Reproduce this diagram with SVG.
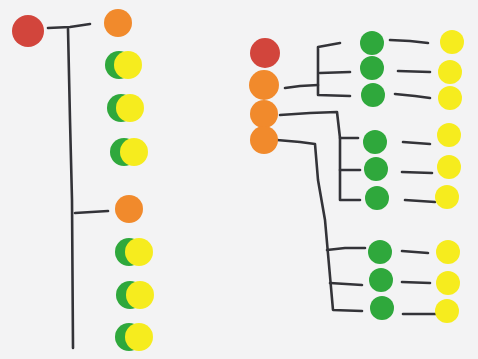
<svg xmlns="http://www.w3.org/2000/svg" width="478" height="359" viewBox="0 0 478 359">
<style>
.red{fill:#d2453c}
.org{fill:#f18a2c}
.grn{fill:#2fa83c}
.yel{fill:#f6ec1e}
.ln{fill:none;stroke:#333338;stroke-width:2.6;stroke-linecap:round;stroke-linejoin:round}
</style>
<rect width="478" height="359" fill="#f3f3f4"/>
<g id="connectors">
<path class="ln" d="M48 28 L70 27 L90 24"/>
<path class="ln" d="M68 29 L70 120 L72 200 L73 348"/>
<path class="ln" d="M75 213 L108 211"/>
<path class="ln" d="M285 88 L300 86 L318 85"/>
<path class="ln" d="M340 43 L318 47 L318 95 L350 96"/>
<path class="ln" d="M320 73 L350 72"/>
<path class="ln" d="M280 115 L310 113 L337 112 L340 138 L340 200 L360 200"/>
<path class="ln" d="M340 138 L358 138"/>
<path class="ln" d="M340 170 L360 170"/>
<path class="ln" d="M277 140 L300 142 L315 144 L318 180 L325 220 L333 310 L362 311"/>
<path class="ln" d="M327 250 L345 248 L365 248"/>
<path class="ln" d="M330 283 L362 285"/>
<path class="ln" d="M390 40 L410 41 L428 43"/>
<path class="ln" d="M398 71 L430 72"/>
<path class="ln" d="M395 94 L415 96 L430 98"/>
<path class="ln" d="M403 142 L430 144"/>
<path class="ln" d="M402 172 L432 173"/>
<path class="ln" d="M405 200 L435 202"/>
<path class="ln" d="M402 251 L428 253"/>
<path class="ln" d="M402 282 L430 283"/>
<path class="ln" d="M403 314 L437 314"/>
</g>
<g id="L-red"><circle class="red" cx="28" cy="31" r="16"/></g>
<g id="L-org1"><circle class="org" cx="118" cy="23" r="14"/></g>
<g id="L-gy1"><circle class="grn" cx="119" cy="65" r="14"/><circle class="yel" cx="128" cy="65" r="14"/></g>
<g id="L-gy2"><circle class="grn" cx="121" cy="108" r="14"/><circle class="yel" cx="130" cy="108" r="14"/></g>
<g id="L-gy3"><circle class="grn" cx="124" cy="152" r="14"/><circle class="yel" cx="134" cy="152" r="14"/></g>
<g id="L-org2"><circle class="org" cx="129" cy="209" r="14"/></g>
<g id="L-gy4"><circle class="grn" cx="129" cy="252" r="14"/><circle class="yel" cx="139" cy="252" r="14"/></g>
<g id="L-gy5"><circle class="grn" cx="130" cy="295" r="14"/><circle class="yel" cx="140" cy="295" r="14"/></g>
<g id="L-gy6"><circle class="grn" cx="129" cy="337" r="14"/><circle class="yel" cx="139" cy="337" r="14"/></g>
<g id="R-red"><circle class="red" cx="265" cy="53" r="15"/></g>
<g id="R-org1"><circle class="org" cx="264" cy="85" r="15"/></g>
<g id="R-org2"><circle class="org" cx="264" cy="114" r="14"/></g>
<g id="R-org3"><circle class="org" cx="264" cy="140" r="14"/></g>
<g id="R-g1"><circle class="grn" cx="372" cy="43" r="12"/></g>
<g id="R-g2"><circle class="grn" cx="372" cy="68" r="12"/></g>
<g id="R-g3"><circle class="grn" cx="373" cy="95" r="12"/></g>
<g id="R-g4"><circle class="grn" cx="375" cy="142" r="12"/></g>
<g id="R-g5"><circle class="grn" cx="376" cy="169" r="12"/></g>
<g id="R-g6"><circle class="grn" cx="377" cy="198" r="12"/></g>
<g id="R-g7"><circle class="grn" cx="380" cy="252" r="12"/></g>
<g id="R-g8"><circle class="grn" cx="381" cy="280" r="12"/></g>
<g id="R-g9"><circle class="grn" cx="382" cy="308" r="12"/></g>
<g id="R-y1"><circle class="yel" cx="452" cy="42" r="12"/></g>
<g id="R-y2"><circle class="yel" cx="450" cy="72" r="12"/></g>
<g id="R-y3"><circle class="yel" cx="450" cy="98" r="12"/></g>
<g id="R-y4"><circle class="yel" cx="449" cy="135" r="12"/></g>
<g id="R-y5"><circle class="yel" cx="449" cy="167" r="12"/></g>
<g id="R-y6"><circle class="yel" cx="447" cy="197" r="12"/></g>
<g id="R-y7"><circle class="yel" cx="448" cy="252" r="12"/></g>
<g id="R-y8"><circle class="yel" cx="448" cy="283" r="12"/></g>
<g id="R-y9"><circle class="yel" cx="447" cy="311" r="12"/></g>
</svg>
